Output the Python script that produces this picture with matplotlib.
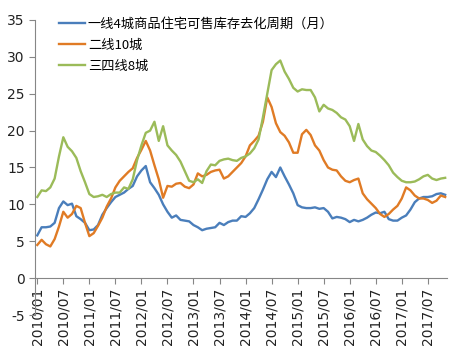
import matplotlib
matplotlib.use("Agg")
import matplotlib.pyplot as plt
import numpy as np

plt.rcParams['font.family'] = ['DejaVu Sans', 'Noto Sans CJK SC']

start_year, start_month = 2010, 1
tier1 = [5.8, 6.9, 6.9, 7.0, 7.5, 9.5, 10.4, 9.9, 10.1, 8.4, 8.0, 7.5,
         6.5, 6.6, 7.2, 8.6, 9.5, 10.3, 11.0, 11.3, 11.6, 12.1, 12.5, 13.8,
         14.6, 15.2, 13.0, 12.2, 11.3, 10.0, 9.0, 8.2, 8.5, 7.9, 7.8, 7.7,
         7.2, 6.9, 6.5, 6.7, 6.8, 6.9, 7.5, 7.2, 7.6, 7.8, 7.8, 8.4,
         8.3, 8.8, 9.5, 10.7, 12.0, 13.4, 14.4, 13.7, 15.0, 13.8, 12.7, 11.5,
         9.9, 9.6, 9.5, 9.5, 9.6, 9.4, 9.5, 9.0, 8.1, 8.3, 8.2, 8.0,
         7.6, 7.9, 7.7, 7.9, 8.2, 8.6, 8.9, 8.8, 9.0, 8.0, 7.8, 7.8,
         8.2, 8.5, 9.3, 10.3, 10.8, 11.0, 11.0, 11.1, 11.4, 11.5, 11.3]
tier2 = [4.5, 5.2, 4.6, 4.3, 5.3, 7.0, 9.0, 8.2, 8.7, 9.8, 9.5, 7.5,
         5.7, 6.1, 7.1, 8.2, 9.7, 10.8, 12.3, 13.2, 13.8, 14.4, 14.9, 16.3,
         17.4, 18.6, 17.3, 15.3, 13.4, 10.9, 12.5, 12.4, 12.8, 12.9, 12.4, 12.2,
         12.7, 14.2, 13.8, 14.0, 14.4, 14.6, 14.7, 13.5, 13.8, 14.4, 15.0, 15.6,
         16.5, 18.0, 18.6, 19.3, 21.2, 24.5, 23.2, 21.0, 19.8, 19.3, 18.4, 17.0,
         17.0, 19.5, 20.1, 19.4, 18.0, 17.3, 16.0, 15.0, 14.7, 14.6, 13.8, 13.2,
         13.0, 13.3, 13.5, 11.5, 10.7, 10.1, 9.5, 8.7, 8.3, 8.7, 9.3, 9.8,
         10.8, 12.3, 11.9, 11.2, 10.8, 10.8, 10.6, 10.2, 10.5, 11.2, 11.0]
tier34 = [11.0, 11.9, 11.8, 12.3, 13.5, 16.5, 19.1, 17.8, 17.2, 16.3, 14.5, 13.0,
          11.4, 11.0, 11.1, 11.3, 11.0, 11.4, 11.6, 11.6, 12.3, 12.1, 13.4, 16.0,
          18.0, 19.7, 20.0, 21.2, 18.6, 20.6, 18.0, 17.3, 16.7, 15.8, 14.5, 13.2,
          13.0, 13.4, 12.9, 14.5, 15.4, 15.3, 15.9, 16.1, 16.2, 16.0, 15.9, 16.3,
          16.5, 16.9, 17.6, 18.8, 21.8, 25.0, 28.2, 29.0, 29.5, 28.0, 27.0, 25.8,
          25.3, 25.6, 25.5, 25.5, 24.5, 22.6, 23.5, 23.0, 22.8, 22.4, 21.8, 21.5,
          20.6, 18.6, 20.9, 18.8, 17.9, 17.3, 17.1, 16.6, 16.0, 15.3, 14.3, 13.7,
          13.2, 13.0, 13.0, 13.1, 13.4, 13.8, 14.0, 13.5, 13.3, 13.5, 13.6]
series_names = ['一线4城商品住宅可售库存去化周期（月）', '二线10城', '三四线8城']
colors = ['#4A7EBB', '#E07B25', '#9BBB59']

n = len(tier1)
labels = []
for i in range(n):
    y = start_year + (start_month - 1 + i) // 12
    mth = (start_month - 1 + i) % 12 + 1
    labels.append(f"{y}/{mth:02d}")
x = np.arange(n)

fig = plt.figure(figsize=(4.56, 3.56), dpi=100)
ax = fig.add_axes([0.077, 0.115, 0.904, 0.829])

for s in ['top', 'right']:
    ax.spines[s].set_visible(False)
ax.spines['bottom'].set_position(('data', 0))
ax.spines['bottom'].set_color('#868686')
ax.spines['left'].set_color('#868686')

for data, name, c in zip([tier1, tier2, tier34], series_names, colors):
    ax.plot(x, data, color=c, lw=1.7, label=name, solid_joinstyle='round')

ax.set_xlim(-0.5, n - 0.5)
ax.set_ylim(-5, 35)
ax.set_yticks(np.arange(-5, 36, 5))
ax.set_yticklabels([str(v) for v in range(-5, 36, 5)], fontsize=10)
tick_idx = list(range(0, n, 6))
ax.set_xticks(tick_idx)
ax.set_xticklabels([labels[i] for i in tick_idx], fontsize=10)

ax.tick_params(axis='both', colors='#868686', labelcolor='#222222', length=4, width=0.8)
ax.tick_params(axis='x', pad=3, labelrotation=90)

leg = ax.legend(loc='upper left', bbox_to_anchor=(0.045, 1.025), frameon=False,
                prop={'family': ['Noto Sans CJK SC'], 'size': 9.5},
                handlelength=2.0, handletextpad=0.2, labelspacing=0.6,
                borderaxespad=0)

fig.savefig('out.png', dpi=100)
